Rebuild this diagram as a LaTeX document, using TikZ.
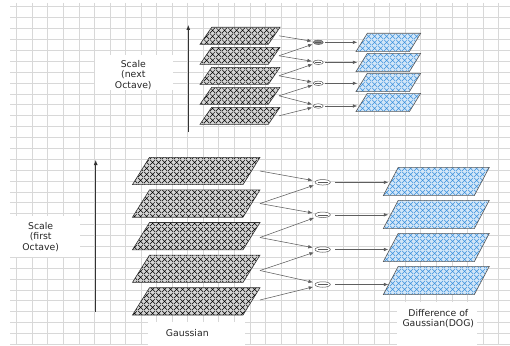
\documentclass[tikz,border=0pt]{standalone}
\usepackage{fontspec}
\setmainfont{DejaVu Sans}
\usetikzlibrary{patterns,arrows.meta,shapes.geometric}

\pgfdeclarepatternformonly{diamx}{\pgfpoint{0pt}{0pt}}{\pgfpoint{6pt}{6pt}}{\pgfpoint{6pt}{6pt}}{%
  \pgfsetlinewidth{0.55pt}%
  \pgfpathmoveto{\pgfpoint{0pt}{0pt}}\pgfpathlineto{\pgfpoint{6pt}{6pt}}%
  \pgfpathmoveto{\pgfpoint{0pt}{6pt}}\pgfpathlineto{\pgfpoint{6pt}{0pt}}%
  \pgfusepath{stroke}}

\definecolor{gridc}{RGB}{216,216,216}
\definecolor{dogblue}{RGB}{60,145,220}
\definecolor{doglight}{RGB}{210,230,248}
\definecolor{gaulight}{RGB}{212,212,212}
\definecolor{connc}{RGB}{95,95,95}

\newcommand{\gpar}[6]{\path[#6] (#1+#5,#2) -- ++(#3,0) -- ++(-#5,#4) -- ++(-#3,0) -- cycle;}

\tikzset{
  gridline/.style={draw=gridc, line width=0.6pt},
  whitebox/.style={fill=white, draw=none},
  gauss/.style={preaction={fill=gaulight}, pattern=diamx, pattern color=black, draw=black!80, line width=0.6pt},
  dogs/.style={preaction={fill=doglight}, pattern=diamx, pattern color=dogblue, draw=black!65, line width=0.6pt},
  conn/.style={draw=connc, line width=0.55pt, -{Latex[length=4.5pt,width=3.6pt]}},
  scalearrow/.style={draw=black!80, line width=0.8pt, -{Latex[length=5pt,width=4pt]}},
  minusS/.style={ellipse, draw=black!65, line width=0.5pt, fill=white, inner sep=0pt, minimum width=10pt, minimum height=4.5pt},
  minusB/.style={ellipse, draw=black!65, line width=0.5pt, fill=white, inner sep=0pt, minimum width=15.3pt, minimum height=5.5pt},
  minusbar/.style={draw=black!65, line width=0.5pt},
  lbl/.style={font=\fontsize{9.3}{10.6}\selectfont, align=center, text=black!85, inner sep=0pt}
}

\begin{document}
\begin{tikzpicture}[x=1pt,y=-1pt]
\useasboundingbox (0,0) rectangle (510,345);
\fill[white] (0,0) rectangle (510,345);

% grid
\foreach \k in {0,...,31} \draw[gridline] (16.7+15.54*\k,3) -- (16.7+15.54*\k,345);
\foreach \k in {0,...,31} \draw[gridline] (10,6.7+10.89*\k) -- (510,6.7+10.89*\k);

% label backgrounds
\path[whitebox] (95,55) rectangle (173,90);
\path[whitebox] (0,216) rectangle (80,257);
\path[whitebox] (148,322) rectangle (245,345);
\path[whitebox] (397,302) rectangle (477,345);

% scale arrows
\coordinate (sa0) at (188.3,132);
\coordinate (sa1) at (188.3,25);
\draw[scalearrow] (sa0) -- (sa1);
\coordinate (sb0) at (95.7,311.7);
\coordinate (sb1) at (95.7,160);
\draw[scalearrow] (sb0) -- (sb1);

% top octave gaussians
\foreach \k in {0,...,4} {\gpar{200}{27.3+20*\k}{68.3}{17}{11.7}{gauss}}
% top octave DOG
\foreach \k in {0,...,3} {\gpar{356}{33.3+20*\k}{53.4}{18.3}{11.3}{dogs}}

% bottom octave gaussians
\foreach \k in {0,...,4} {\gpar{132.5}{157.3+32.6*\k}{110.5}{27.3}{17}{gauss}}
% bottom octave DOG
\foreach \k in {0,...,3} {\gpar{383.3}{167.3+33*\k}{91}{28.3}{15}{dogs}}

% ---- top octave connectors
\coordinate (go1) at (279,35.8);
\coordinate (go2) at (279,55.8);
\coordinate (go3) at (279,75.8);
\coordinate (go4) at (279,95.8);
\coordinate (go5) at (279,115.8);
\node[minusS, fill=black!45] (t1) at (318.3,42.3) {};
\node[minusS] (t2) at (318.3,62.3) {};
\node[minusS] (t3) at (318.3,83.3) {};
\node[minusS] (t4) at (318.3,106) {};
\foreach \n in {t1,t2,t3,t4} \draw[minusbar] ([xshift=-3pt]\n.center) -- ([xshift=3pt]\n.center);
\coordinate (td1) at (357.3,42.3);
\coordinate (td2) at (357.3,62.3);
\coordinate (td3) at (357.3,83.3);
\coordinate (td4) at (357.3,106);
\draw[conn, shorten >=1.5pt] (go1) -- (t1);
\draw[conn, shorten >=1.5pt] (go2) -- (t1);
\draw[conn, shorten >=1.5pt] (go2) -- (t2);
\draw[conn, shorten >=1.5pt] (go3) -- (t2);
\draw[conn, shorten >=1.5pt] (go3) -- (t3);
\draw[conn, shorten >=1.5pt] (go4) -- (t3);
\draw[conn, shorten >=1.5pt] (go4) -- (t4);
\draw[conn, shorten >=1.5pt] (go5) -- (t4);
\foreach \i in {1,2,3,4} \draw[conn, shorten <=1.7pt] (t\i) -- (td\i);

% ---- bottom octave connectors
\coordinate (bo1) at (260,171);
\coordinate (bo2) at (260,203.5);
\coordinate (bo3) at (260,237.5);
\coordinate (bo4) at (260,270.5);
\coordinate (bo5) at (260,300);
\node[minusB] (b1) at (322.7,182.3) {};
\node[minusB] (b2) at (322.7,214.8) {};
\node[minusB] (b3) at (322.7,249.5) {};
\node[minusB] (b4) at (322.7,284.5) {};
\foreach \n in {b1,b2,b3,b4} \draw[minusbar] ([xshift=-5pt]\n.center) -- ([xshift=5pt]\n.center);
\coordinate (bd1) at (388.3,182.3);
\coordinate (bd2) at (388.3,214.8);
\coordinate (bd3) at (388.3,249.5);
\coordinate (bd4) at (388.3,284.5);
\draw[conn, shorten >=3pt] (bo1) -- (b1);
\draw[conn, shorten >=3pt] (bo2) -- (b1);
\draw[conn, shorten >=3pt] (bo2) -- (b2);
\draw[conn, shorten >=3pt] (bo3) -- (b2);
\draw[conn, shorten >=3pt] (bo3) -- (b3);
\draw[conn, shorten >=3pt] (bo4) -- (b3);
\draw[conn, shorten >=3pt] (bo4) -- (b4);
\draw[conn, shorten >=3pt] (bo5) -- (b4);
\foreach \i in {1,2,3,4} \draw[conn, shorten <=4.5pt] (b\i) -- (bd\i);

% labels
\node[lbl] (lnext) at (133.3,75) {Scale\\(next\\Octave)};
\node[lbl] (lfirst) at (40.7,236.7) {Scale\\(first\\Octave)};
\node[lbl] (lgauss) at (187.3,333.3) {Gaussian};
\node[lbl] (ldog) at (438.3,318.7) {Difference of\\Gaussian(DOG)};
\end{tikzpicture}
\end{document}
